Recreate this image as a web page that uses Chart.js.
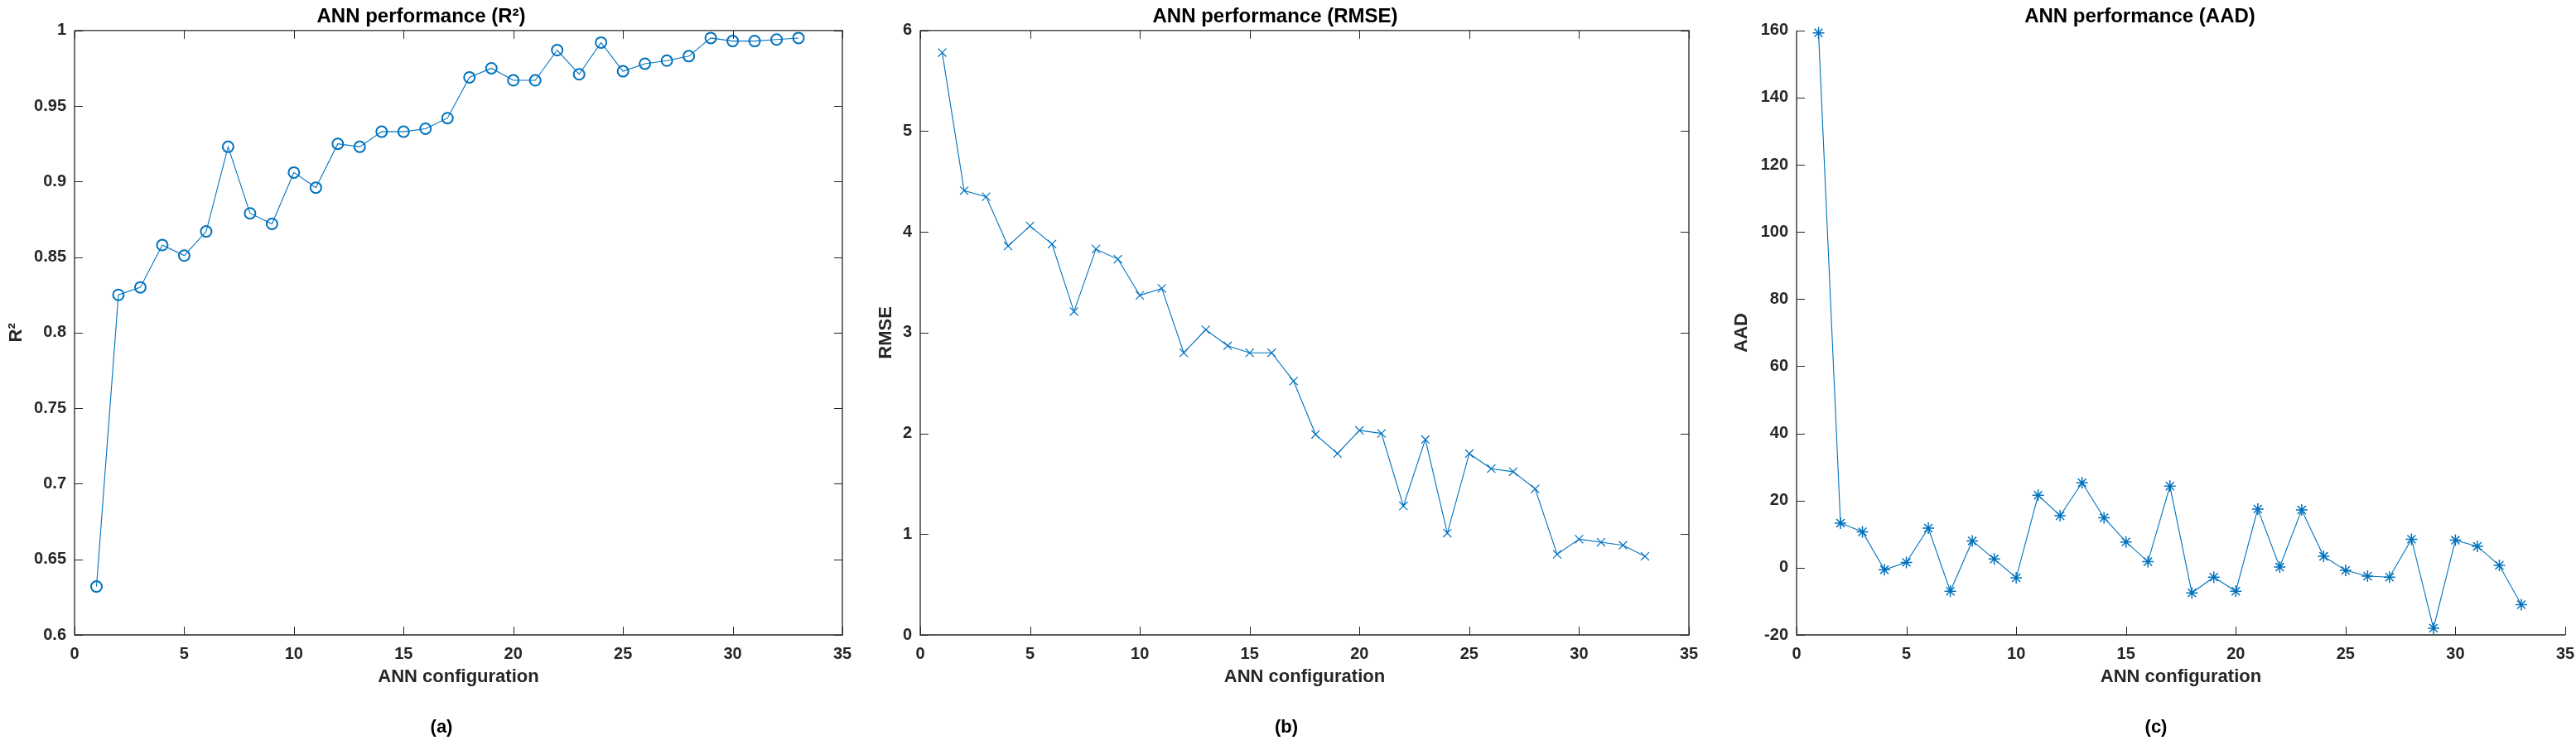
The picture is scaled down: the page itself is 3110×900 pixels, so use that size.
<!DOCTYPE html>
<html lang="en">
<head>
    <meta charset="UTF-8">
    <title>ANN performance</title>
    <script src="https://cdn.jsdelivr.net/npm/chart.js"></script>
    <style>
        html, body {
            margin: 0;
            padding: 0;
            background: #ffffff;
            overflow: hidden;
        }
        body {
            width: 3110px;
            height: 900px;
            position: relative;
            font-family: 'Liberation Sans', Arial, sans-serif;
        }
        .panel {
            position: absolute;
            top: 0;
            height: 900px;
        }
        .caption {
            position: absolute;
            top: 865px;
            font-weight: bold;
            font-size: 22px;
            color: #000;
            transform: translateX(-50%);
        }
    </style>
</head>
<body>
    <div class="panel" style="left:0px;width:1107px"><canvas id="chartR2"></canvas></div>
    <div class="panel" style="left:1040px;width:1070px"><canvas id="chartRmse"></canvas></div>
    <div class="panel" style="left:2070px;width:1126px"><canvas id="chartAad"></canvas></div>
    <div class="caption" style="left:533px">(a)</div>
    <div class="caption" style="left:1553px">(b)</div>
    <div class="caption" style="left:2603px">(c)</div>

    <script>
        // ANN configuration numbers
        const configs = [1, 2, 3, 4, 5, 6, 7, 8, 9, 10, 11, 12, 13, 14, 15, 16, 17,
                         18, 19, 20, 21, 22, 23, 24, 25, 26, 27, 28, 29, 30, 31, 32, 33];

        const r2Values = [0.632, 0.825, 0.830, 0.858, 0.851, 0.867, 0.923, 0.879, 0.872, 0.906, 0.896,
                          0.925, 0.923, 0.933, 0.933, 0.935, 0.942, 0.969, 0.975, 0.967, 0.967, 0.987,
                          0.971, 0.992, 0.973, 0.978, 0.980, 0.983, 0.995, 0.993, 0.993, 0.994, 0.995];

        const rmseValues = [5.78, 4.41, 4.35, 3.86, 4.06, 3.88, 3.21, 3.83, 3.73, 3.37, 3.44,
                            2.80, 3.03, 2.87, 2.80, 2.80, 2.52, 1.99, 1.80, 2.03, 2.00, 1.28,
                            1.94, 1.01, 1.80, 1.65, 1.62, 1.45, 0.80, 0.95, 0.92, 0.89, 0.78];

        const aadValues = [159.3, 13.3, 10.7, -0.6, 1.6, 11.8, -7.0, 8.0, 2.6, -3.0, 21.6,
                           15.5, 25.3, 14.9, 7.7, 1.8, 24.3, -7.5, -2.8, -7.0, 17.5, 0.2,
                           17.2, 3.4, -0.8, -2.5, -2.8, 8.5, -18.0, 8.2, 6.4, 0.7, -11.0];

        const xTicks = [0, 5, 10, 15, 20, 25, 30, 35];
        const r2Ticks = [0.6, 0.65, 0.7, 0.75, 0.8, 0.85, 0.9, 0.95, 1];
        const rmseTicks = [0, 1, 2, 3, 4, 5, 6];
        const aadTicks = [-20, 0, 20, 40, 60, 80, 100, 120, 140, 160];

        const lineBlue = '#0072BD';
        const axisColor = '#262626';
        const fontFamily = "'Liberation Sans', Arial, sans-serif";

        // MATLAB style axes: inward ticks, optional box
        const matlabAxes = {
            id: 'matlabAxes',
            afterDraw(chart, args, opts) {
                const ctx = chart.ctx;
                const a = chart.chartArea;
                const xs = chart.scales.x;
                const ys = chart.scales.y;
                const len = 10;
                ctx.save();
                ctx.strokeStyle = axisColor;
                ctx.lineWidth = 1.3;
                ctx.beginPath();
                ctx.moveTo(a.left, a.top);
                ctx.lineTo(a.left, a.bottom);
                ctx.lineTo(a.right, a.bottom);
                if (opts.box) {
                    ctx.lineTo(a.right, a.top);
                    ctx.lineTo(a.left, a.top);
                }
                ctx.stroke();

                ctx.lineWidth = 1;
                ctx.beginPath();
                xs.ticks.forEach(t => {
                    const px = Math.round(xs.getPixelForValue(t.value)) + 0.5;
                    ctx.moveTo(px, a.bottom);
                    ctx.lineTo(px, a.bottom - len);
                    if (opts.box) {
                        ctx.moveTo(px, a.top);
                        ctx.lineTo(px, a.top + len);
                    }
                });
                ys.ticks.forEach(t => {
                    const py = Math.round(ys.getPixelForValue(t.value)) + 0.5;
                    ctx.moveTo(a.left, py);
                    ctx.lineTo(a.left + len, py);
                    if (opts.box) {
                        ctx.moveTo(a.right, py);
                        ctx.lineTo(a.right - len, py);
                    }
                });
                ctx.stroke();
                ctx.restore();
            }
        };

        function makeChart(id, cfg) {
            const ctx = document.getElementById(id).getContext('2d');
            return new Chart(ctx, {
                type: 'line',
                data: {
                    datasets: [{
                        data: configs.map((c, i) => ({ x: c, y: cfg.values[i] })),
                        borderColor: lineBlue,
                        borderWidth: 1.1,
                        pointStyle: cfg.marker,
                        pointRadius: cfg.radius,
                        pointBorderWidth: cfg.markerWidth,
                        pointBorderColor: lineBlue,
                        pointBackgroundColor: 'rgba(0,0,0,0)',
                        tension: 0,
                        fill: false,
                        clip: false
                    }]
                },
                options: {
                    responsive: true,
                    maintainAspectRatio: false,
                    animation: false,
                    events: [],
                    layout: { padding: { left: 0, right: cfg.padRight, top: 0, bottom: 0 } },
                    plugins: {
                        legend: { display: false },
                        tooltip: { enabled: false },
                        title: {
                            display: true,
                            text: cfg.title,
                            color: '#000000',
                            font: { family: fontFamily, size: 24, weight: 'bold' },
                            padding: { top: 6, bottom: 2 }
                        },
                        matlabAxes: { box: cfg.box }
                    },
                    scales: {
                        x: {
                            type: 'linear',
                            min: 0,
                            max: 35,
                            afterBuildTicks: s => { s.ticks = xTicks.map(v => ({ value: v })); },
                            afterFit: s => { s.height = 133; },
                            grid: { display: false, drawTicks: false },
                            border: { display: false },
                            ticks: {
                                color: axisColor,
                                padding: 11,
                                maxRotation: 0,
                                font: { family: fontFamily, size: 20, weight: 'bold' },
                                callback: v => String(v)
                            },
                            title: {
                                display: true,
                                text: 'ANN configuration',
                                color: axisColor,
                                font: { family: fontFamily, size: 22, weight: 'bold' },
                                padding: { top: 0, bottom: 69 }
                            }
                        },
                        y: {
                            type: 'linear',
                            min: cfg.ticks[0],
                            max: cfg.ticks[cfg.ticks.length - 1],
                            afterBuildTicks: s => { s.ticks = cfg.ticks.map(v => ({ value: v })); },
                            afterFit: s => { s.width = cfg.yWidth; },
                            grid: { display: false, drawTicks: false },
                            border: { display: false },
                            ticks: {
                                color: axisColor,
                                padding: 10,
                                font: { family: fontFamily, size: 20, weight: 'bold' },
                                callback: v => String(v)
                            },
                            title: {
                                display: true,
                                text: cfg.yLabel,
                                color: axisColor,
                                font: { family: fontFamily, size: 22, weight: 'bold' },
                                padding: { top: cfg.yTitlePad, bottom: 0 }
                            }
                        }
                    }
                },
                plugins: [matlabAxes]
            });
        }

        makeChart('chartR2', {
            title: 'ANN performance (R²)', yLabel: 'R²', values: r2Values, ticks: r2Ticks,
            marker: 'circle', radius: 6.5, markerWidth: 2, box: true,
            yWidth: 90, padRight: 90, yTitlePad: 7
        });

        makeChart('chartRmse', {
            title: 'ANN performance (RMSE)', yLabel: 'RMSE', values: rmseValues, ticks: rmseTicks,
            marker: 'crossRot', radius: 7, markerWidth: 1.2, box: true,
            yWidth: 71, padRight: 71, yTitlePad: 17
        });

        makeChart('chartAad', {
            title: 'ANN performance (AAD)', yLabel: 'AAD', values: aadValues, ticks: aadTicks,
            marker: 'star', radius: 7, markerWidth: 1.5, box: false,
            yWidth: 99, padRight: 99, yTitlePad: 20
        });
    </script>
</body>
</html>
